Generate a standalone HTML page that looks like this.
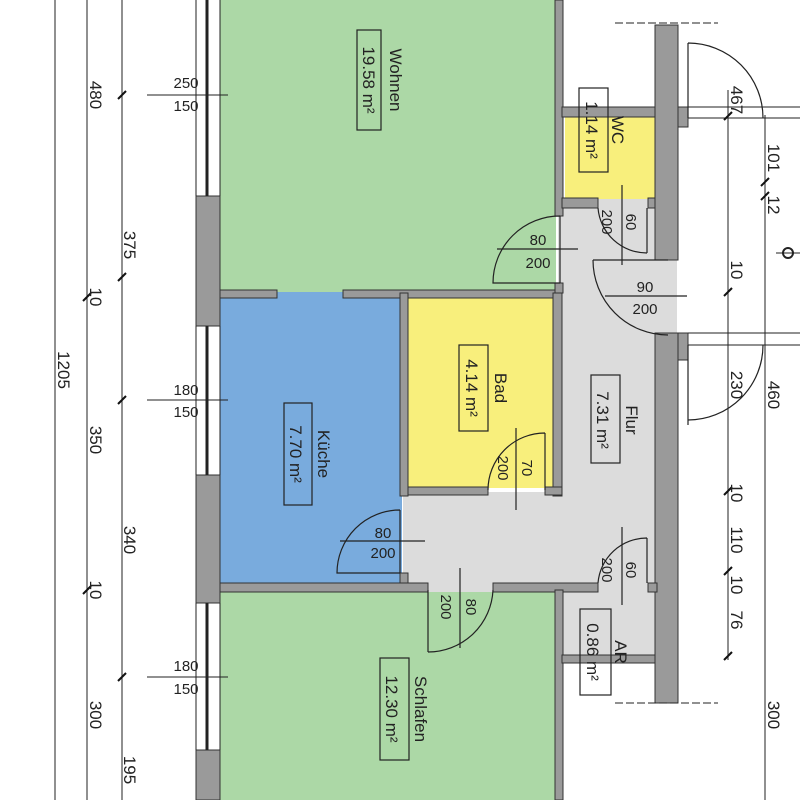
<!DOCTYPE html>
<html><head><meta charset="utf-8"><style>body{margin:0;background:#fff}svg{display:block}text{font-family:"Liberation Sans",sans-serif;fill:#222}</style></head>
<body>
<svg width="800" height="800" viewBox="0 0 800 800" xmlns="http://www.w3.org/2000/svg">
<!-- rooms -->
<rect x="220" y="0" width="336" height="292" fill="#acd8a6"/>
<rect x="220" y="292" width="182" height="292" fill="#79abdd"/>
<rect x="558" y="199" width="99" height="391" fill="#dcdcdc"/>
<rect x="403" y="492" width="254" height="100" fill="#dcdcdc"/>
<rect x="408" y="298" width="146" height="190" fill="#f8ef7c"/>
<rect x="565" y="117" width="90" height="82" fill="#f8ef7c"/>
<rect x="220" y="592" width="336" height="208" fill="#acd8a6"/>
<rect x="563" y="592" width="92" height="64" fill="#dcdcdc"/>
<rect x="657" y="260" width="20" height="75" fill="#dcdcdc"/>
<!-- walls -->
<g fill="#9a9a9a" stroke="#333" stroke-width="1">
<rect x="196" y="196" width="24" height="130"/>
<rect x="196" y="475" width="24" height="128"/>
<rect x="196" y="750" width="24" height="50"/>
<rect x="220" y="290" width="57" height="8"/>
<rect x="343" y="290" width="219" height="8"/>
<rect x="400" y="293" width="8" height="203"/>
<rect x="400" y="573" width="8" height="17"/>
<rect x="553" y="293" width="9" height="203"/>
<rect x="408" y="487" width="80" height="8"/>
<rect x="545" y="487" width="17" height="8"/>
<rect x="555" y="0" width="8" height="216"/>
<rect x="555" y="283" width="8" height="10"/>
<rect x="562" y="107" width="126" height="10"/>
<rect x="678" y="107" width="10" height="20"/>
<rect x="562" y="198" width="36" height="10"/>
<rect x="648" y="198" width="9" height="10"/>
<rect x="655" y="25" width="23" height="235"/>
<rect x="655" y="333" width="23" height="370"/>
<rect x="678" y="333" width="10" height="27"/>
<rect x="220" y="583" width="208" height="9"/>
<rect x="493" y="583" width="105" height="9"/>
<rect x="648" y="583" width="9" height="9"/>
<rect x="555" y="590" width="8" height="210"/>
<rect x="562" y="655" width="93" height="8"/>
</g>
<!-- windows -->
<g stroke="#222">
<line x1="196" y1="0" x2="196" y2="196"/><line x1="220" y1="0" x2="220" y2="196"/>
<line x1="207" y1="0" x2="207" y2="196" stroke-width="3"/>
<line x1="196" y1="326" x2="196" y2="475"/><line x1="220" y1="326" x2="220" y2="475"/>
<line x1="207" y1="326" x2="207" y2="475" stroke-width="3"/>
<line x1="196" y1="603" x2="196" y2="750"/><line x1="220" y1="603" x2="220" y2="750"/>
<line x1="207" y1="603" x2="207" y2="750" stroke-width="3"/>
</g>
<!-- dim lines -->
<g stroke="#222" stroke-width="1">
<line x1="55" y1="0" x2="55" y2="800"/>
<line x1="87" y1="0" x2="87" y2="800"/>
<line x1="122" y1="0" x2="122" y2="800"/>
<line x1="147" y1="95" x2="228" y2="95"/>
<line x1="147" y1="400" x2="228" y2="400"/>
<line x1="147" y1="677" x2="228" y2="677"/>
<line x1="728" y1="90" x2="728" y2="660"/>
<line x1="765" y1="115" x2="765" y2="800"/>
<line x1="688" y1="107" x2="800" y2="107"/>
<line x1="688" y1="118" x2="800" y2="118"/>
<line x1="688" y1="333" x2="800" y2="333"/>
<line x1="688" y1="345" x2="800" y2="345"/>
<line x1="615" y1="23" x2="718" y2="23" stroke-dasharray="8,3"/>
<line x1="615" y1="703" x2="718" y2="703" stroke-dasharray="8,3"/>
</g>
<g stroke="#111" stroke-width="2">
<line x1="118" y1="99" x2="126" y2="91"/><line x1="83" y1="301" x2="91" y2="293"/><line x1="118" y1="404" x2="126" y2="396"/>
<line x1="83" y1="594" x2="91" y2="586"/><line x1="118" y1="281" x2="126" y2="273"/><line x1="118" y1="681" x2="126" y2="673"/>
<line x1="724" y1="120" x2="732" y2="112"/><line x1="724" y1="296" x2="732" y2="288"/><line x1="724" y1="495" x2="732" y2="487"/>
<line x1="724" y1="575" x2="732" y2="567"/><line x1="724" y1="660" x2="732" y2="652"/><line x1="761" y1="200" x2="769" y2="192"/><line x1="761" y1="186" x2="769" y2="178"/>
</g>
<!-- doors -->
<g fill="none" stroke="#222" stroke-width="1.2">
<path d="M688 43 L688 118 M688 43 A75 75 0 0 1 763 118"/>
<path d="M688 425 L688 345 M763 345 A75 75 0 0 1 688 420"/>
<path d="M560 216 L560 283 M560 216 A67 67 0 0 0 493 283 L560 283"/>
<path d="M593 260 A75 75 0 0 0 668 335 M593 260 L668 260"/>
<line x1="605" y1="296" x2="687" y2="296"/>
<line x1="497" y1="249" x2="578" y2="249"/>
<path d="M647 208 L647 253 M598 208 A49 49 0 0 0 647 253"/>
<line x1="622" y1="185" x2="622" y2="265"/>
<path d="M545 433 L545 490 M545 433 A57 57 0 0 0 488 490"/>
<line x1="516" y1="428" x2="516" y2="510"/>
<path d="M400 510 L400 573 M400 510 A63 63 0 0 0 337 573 L400 573"/>
<line x1="340" y1="541" x2="425" y2="541"/>
<path d="M428 590 L428 652 M493 590 A65 65 0 0 1 428 652"/>
<line x1="460" y1="568" x2="460" y2="648"/>
<path d="M647 538 L647 583 M647 538 A49 49 0 0 0 598 583"/>
<line x1="622" y1="527" x2="622" y2="605"/>
</g>
<!-- label boxes -->
<g fill="none" stroke="#222" stroke-width="1.2">
<rect x="357" y="30" width="24" height="100"/>
<rect x="579" y="88" width="29" height="84"/>
<rect x="459" y="345" width="29" height="86"/>
<rect x="284" y="403" width="28" height="102"/>
<rect x="591" y="375" width="29" height="88"/>
<rect x="580" y="609" width="31" height="86"/>
<rect x="380" y="658" width="29" height="102"/>
</g>
<g font-size="17">
<text transform="translate(390,80) rotate(90)" text-anchor="middle">Wohnen</text>
<text transform="translate(363,80) rotate(90)" text-anchor="middle">19.58 m²</text>
<text transform="translate(612,130) rotate(90)" text-anchor="middle">WC</text>
<text transform="translate(586,130) rotate(90)" text-anchor="middle">1.14 m²</text>
<text transform="translate(495,388) rotate(90)" text-anchor="middle">Bad</text>
<text transform="translate(466,388) rotate(90)" text-anchor="middle">4.14 m²</text>
<text transform="translate(318,454) rotate(90)" text-anchor="middle">Küche</text>
<text transform="translate(290,454) rotate(90)" text-anchor="middle">7.70 m²</text>
<text transform="translate(626,420) rotate(90)" text-anchor="middle">Flur</text>
<text transform="translate(597,420) rotate(90)" text-anchor="middle">7.31 m²</text>
<text transform="translate(615,652) rotate(90)" text-anchor="middle">AR</text>
<text transform="translate(587,652) rotate(90)" text-anchor="middle">0.86 m²</text>
<text transform="translate(415,709) rotate(90)" text-anchor="middle">Schlafen</text>
<text transform="translate(386,709) rotate(90)" text-anchor="middle">12.30 m²</text>
</g>
<g font-size="15">
<text x="186" y="88" text-anchor="middle">250</text><text x="186" y="111" text-anchor="middle">150</text>
<text x="186" y="395" text-anchor="middle">180</text><text x="186" y="417" text-anchor="middle">150</text>
<text x="186" y="671" text-anchor="middle">180</text><text x="186" y="694" text-anchor="middle">150</text>
<text x="538" y="245" text-anchor="middle">80</text><text x="538" y="268" text-anchor="middle">200</text>
<text x="645" y="292" text-anchor="middle">90</text><text x="645" y="314" text-anchor="middle">200</text>
<text x="383" y="538" text-anchor="middle">80</text><text x="383" y="558" text-anchor="middle">200</text>
<text transform="translate(626,222) rotate(90)" text-anchor="middle">60</text>
<text transform="translate(602,222) rotate(90)" text-anchor="middle">200</text>
<text transform="translate(522,468) rotate(90)" text-anchor="middle">70</text>
<text transform="translate(498,468) rotate(90)" text-anchor="middle">200</text>
<text transform="translate(466,607) rotate(90)" text-anchor="middle">80</text>
<text transform="translate(441,607) rotate(90)" text-anchor="middle">200</text>
<text transform="translate(626,570) rotate(90)" text-anchor="middle">60</text>
<text transform="translate(602,570) rotate(90)" text-anchor="middle">200</text>
</g>
<g font-size="17">
<text transform="translate(90,95) rotate(90)" text-anchor="middle">480</text>
<text transform="translate(124,245) rotate(90)" text-anchor="middle">375</text>
<text transform="translate(90,297) rotate(90)" text-anchor="middle">10</text>
<text transform="translate(58,370) rotate(90)" text-anchor="middle">1205</text>
<text transform="translate(90,440) rotate(90)" text-anchor="middle">350</text>
<text transform="translate(124,540) rotate(90)" text-anchor="middle">340</text>
<text transform="translate(90,590) rotate(90)" text-anchor="middle">10</text>
<text transform="translate(90,715) rotate(90)" text-anchor="middle">300</text>
<text transform="translate(124,770) rotate(90)" text-anchor="middle">195</text>
<text transform="translate(731,100) rotate(90)" text-anchor="middle">467</text>
<text transform="translate(768,158) rotate(90)" text-anchor="middle">101</text>
<text transform="translate(768,205) rotate(90)" text-anchor="middle">12</text>
<text transform="translate(731,270) rotate(90)" text-anchor="middle">10</text>
<text transform="translate(731,385) rotate(90)" text-anchor="middle">230</text>
<text transform="translate(768,395) rotate(90)" text-anchor="middle">460</text>
<text transform="translate(731,493) rotate(90)" text-anchor="middle">10</text>
<text transform="translate(731,540) rotate(90)" text-anchor="middle">110</text>
<text transform="translate(731,585) rotate(90)" text-anchor="middle">10</text>
<text transform="translate(731,620) rotate(90)" text-anchor="middle">76</text>
<text transform="translate(768,715) rotate(90)" text-anchor="middle">300</text>
</g>
<circle cx="788" cy="253" r="5" fill="none" stroke="#222" stroke-width="2"/>
<line x1="776" y1="253" x2="800" y2="253" stroke="#222"/>
</svg>
</body></html>
